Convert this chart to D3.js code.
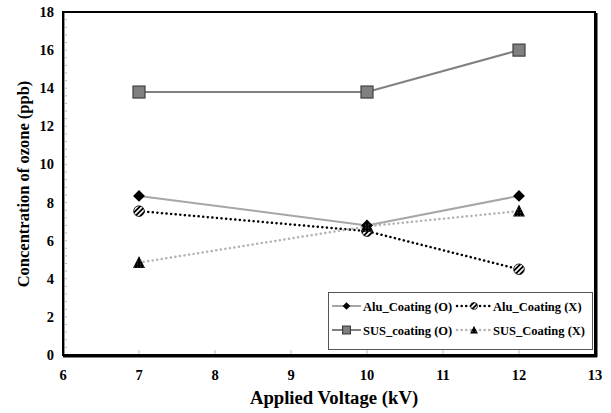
<!DOCTYPE html>
<head>
  <meta charset='utf-8'>
  <style>
    body { margin: 0; background: #fff; }
    text { font-family: 'Liberation Serif', 'Times New Roman', serif; font-weight: bold; }
    .tick-label { font-size: 14.5px; }
    .title { font-size: 16.5px; }
    .title.x { font-size: 18.7px; }
    .legend text { font-size: 12.5px; }
  </style>
</head>
<body>
<script src='https://d3js.org/d3.v7.min.js'></script>
<script>
    var voltages = [7, 10, 12];
    var aluO = [8.35, 6.8, 8.35];
    var aluX = [7.55, 6.5, 4.5];
    var susO = [13.8, 13.8, 16];
    var susX = [4.85, 6.75, 7.55];
    var xTicks = [6, 7, 8, 9, 10, 11, 12, 13];
    var yTicks = [0, 2, 4, 6, 8, 10, 12, 14, 16, 18];

    var W = 611, H = 413,
        margin = {top: 12, right: 16, bottom: 58, left: 63},
        w = W - margin.left - margin.right,
        h = H - margin.top - margin.bottom;

    var x = d3.scaleLinear().domain([6, 13]).range([0, w]),
        y = d3.scaleLinear().domain([0, 18]).range([h, 0]);

    var svg = d3.select('body').append('svg')
        .attr('width', W)
        .attr('height', H);

    var defs = svg.append('defs');
    var hatch = defs.append('pattern')
        .attr('id', 'hatch')
        .attr('patternUnits', 'userSpaceOnUse')
        .attr('width', 3.5).attr('height', 3.5)
        .attr('patternTransform', 'rotate(45)');
    hatch.append('rect').attr('width', 3.5).attr('height', 3.5).attr('fill', '#fff');
    hatch.append('rect').attr('width', 1.8).attr('height', 3.5).attr('fill', '#000');

    var dots = defs.append('pattern')
        .attr('id', 'dots')
        .attr('patternUnits', 'userSpaceOnUse')
        .attr('width', 3).attr('height', 3);
    dots.append('rect').attr('width', 3).attr('height', 3).attr('fill', '#000');
    dots.append('rect').attr('x', 1).attr('y', 1).attr('width', 0.8).attr('height', 0.8).attr('fill', '#777');

    var g = svg.append('g')
        .attr('transform', 'translate(' + margin.left + ',' + margin.top + ')');

    // minor ticks on y axis
    g.append('g').selectAll('line')
        .data(d3.range(0, 18.01, 0.4))
        .enter().append('line')
        .attr('x1', 1).attr('x2', 4)
        .attr('y1', function(d) { return y(d); })
        .attr('y2', function(d) { return y(d); })
        .attr('stroke', '#bbb').attr('stroke-width', 1);

    // x ticks inside
    g.append('g').selectAll('line')
        .data(xTicks)
        .enter().append('line')
        .attr('x1', function(d) { return x(d); })
        .attr('x2', function(d) { return x(d); })
        .attr('y1', h - 1).attr('y2', h - 5)
        .attr('stroke', '#bbb').attr('stroke-width', 1);

    // frame
    g.append('line').attr('x1', 1.5).attr('x2', 1.5).attr('y1', 0).attr('y2', h)
        .attr('stroke', '#999').attr('stroke-width', 1);
    g.append('rect')
        .attr('width', w).attr('height', h)
        .attr('fill', 'none').attr('stroke', '#000').attr('stroke-width', 2);
    g.append('line').attr('x1', w + 1).attr('x2', w + 1).attr('y1', 1).attr('y2', h + 2)
        .attr('stroke', '#000').attr('stroke-width', 3);
    g.append('line').attr('x1', 0).attr('x2', w + 2).attr('y1', h + 1).attr('y2', h + 1)
        .attr('stroke', '#000').attr('stroke-width', 3);

    // tick labels
    g.append('g').selectAll('text')
        .data(yTicks)
        .enter().append('text')
        .attr('class', 'tick-label')
        .attr('x', -9)
        .attr('y', function(d) { return y(d) + 5; })
        .attr('text-anchor', 'end')
        .text(function(d) { return d; });

    g.append('g').selectAll('text')
        .data(xTicks)
        .enter().append('text')
        .attr('class', 'tick-label')
        .attr('x', function(d) { return x(d); })
        .attr('y', h + 25)
        .attr('text-anchor', 'middle')
        .text(function(d) { return d; });

    svg.append('text')
        .attr('class', 'title x')
        .attr('x', 334)
        .attr('y', 404)
        .attr('text-anchor', 'middle')
        .text('Applied Voltage (kV)');

    svg.append('text')
        .attr('class', 'title')
        .attr('transform', 'translate(29,184) rotate(-90)')
        .attr('text-anchor', 'middle')
        .text('Concentration of ozone (ppb)');

    var series = [
        {name: 'Alu_Coating (O)', values: aluO, stroke: '#a6a6a6', width: 2, dash: null, marker: 'diamond'},
        {name: 'Alu_Coating (X)', values: aluX, stroke: '#000', width: 2.5, dash: '0.1,4.5', marker: 'circle'},
        {name: 'SUS_coating (O)', values: susO, stroke: '#808080', width: 2, dash: null, marker: 'square'},
        {name: 'SUS_Coating (X)', values: susX, stroke: '#b3b3b3', width: 2.5, dash: '0.1,4.5', marker: 'triangle'}
    ];

    var line = d3.line()
        .x(function(d) { return x(d.x); })
        .y(function(d) { return y(d.y); });

    function drawMarker(sel, type, scale) {
        scale = scale || 1;
        if (type === 'diamond') {
            sel.append('path')
                .attr('d', d3.symbol().type(d3.symbolDiamond2).size(90 * scale * scale))
                .attr('fill', '#000');
        } else if (type === 'circle') {
            sel.append('circle').attr('r', 5.3 * scale)
                .attr('fill', 'url(#hatch)').attr('stroke', '#000').attr('stroke-width', 0.8);
        } else if (type === 'square') {
            var s = 12 * scale;
            sel.append('rect').attr('x', -s / 2).attr('y', -s / 2)
                .attr('width', s).attr('height', s)
                .attr('fill', '#808080').attr('stroke', '#404040').attr('stroke-width', 1.2);
        } else if (type === 'triangle') {
            var t = 12 * scale;
            sel.append('path')
                .attr('d', 'M0,' + (-t * 0.55) + 'L' + (t / 2) + ',' + (t * 0.45) + 'L' + (-t / 2) + ',' + (t * 0.45) + 'Z')
                .attr('fill', 'url(#dots)');
        }
    }

    series.forEach(function(s) {
        var pts = voltages.map(function(v, i) { return {x: v, y: s.values[i]}; });
        g.append('path')
            .datum(pts)
            .attr('d', line)
            .attr('fill', 'none')
            .attr('stroke', s.stroke)
            .attr('stroke-width', s.width)
            .attr('stroke-linecap', s.dash ? 'round' : 'butt')
            .attr('stroke-dasharray', s.dash);
    });
    series.forEach(function(s) {
        voltages.forEach(function(v, i) {
            var m = g.append('g')
                .attr('transform', 'translate(' + x(v) + ',' + y(s.values[i]) + ')');
            drawMarker(m, s.marker);
        });
    });

    // legend
    var legend = svg.append('g').attr('class', 'legend');
    legend.append('rect')
        .attr('x', 328.5).attr('y', 292.5)
        .attr('width', 264).attr('height', 57)
        .attr('fill', '#fff').attr('stroke', '#555').attr('stroke-width', 1);

    var legendPos = [
        {x: 332, y: 306}, {x: 457, y: 306},
        {x: 332, y: 330}, {x: 457, y: 330}
    ];
    series.forEach(function(s, i) {
        var p = legendPos[i];
        var item = legend.append('g').attr('transform', 'translate(' + p.x + ',' + p.y + ')');
        var len = s.dash ? 34 : 29;
        item.append('line')
            .attr('x1', 0).attr('x2', len)
            .attr('stroke', s.stroke)
            .attr('stroke-width', s.width)
            .attr('stroke-linecap', s.dash ? 'round' : 'butt')
            .attr('stroke-dasharray', s.dash);
        var m = item.append('g').attr('transform', 'translate(' + (len / 2) + ',0)');
        drawMarker(m, s.marker, 0.65);
        item.append('text')
            .attr('x', len + 2)
            .attr('y', 4.5)
            .text(s.name);
    });
</script>
</body>
